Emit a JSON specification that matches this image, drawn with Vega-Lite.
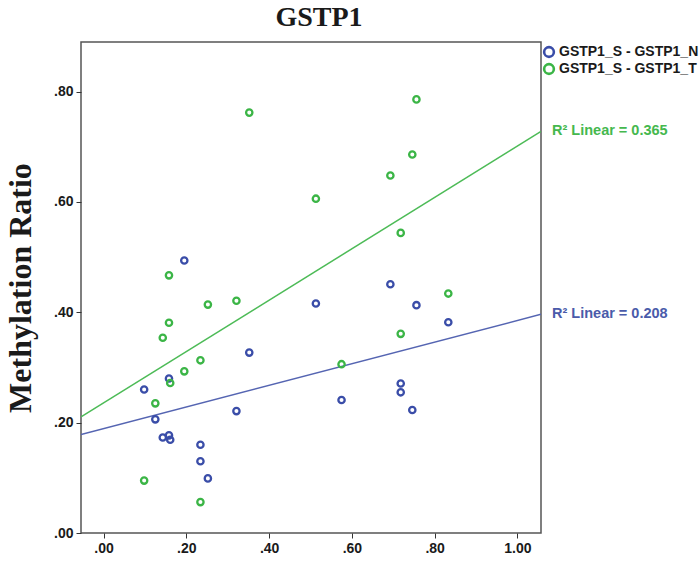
{
  "$schema": "https://vega.github.io/schema/vega-lite/v6.json",
  "width": 460,
  "height": 491,
  "autosize": "none",
  "padding": {"left": 81, "top": 42, "right": 158, "bottom": 30},
  "background": "white",
  "title": {
    "text": "GSTP1",
    "font": "Liberation Serif",
    "fontSize": 28,
    "fontWeight": "bold",
    "color": "#1a1a1a",
    "anchor": "middle",
    "dx": 8,
    "offset": 10
  },
  "config": {
    "view": {"stroke": "#555555", "strokeWidth": 1.5},
    "axis": {
      "grid": false,
      "labelFont": "Liberation Sans",
      "labelFontWeight": "bold",
      "labelFontSize": 14,
      "labelColor": "#1a1a1a",
      "tickColor": "#333333",
      "tickSize": 5,
      "domainColor": "#333333",
      "domainWidth": 1.5
    }
  },
  "data": {
    "values": [
      {"series": "GSTP1_S - GSTP1_N", "r2": "R² Linear = 0.208", "x": 0.195, "y": 0.494},
      {"series": "GSTP1_S - GSTP1_N", "r2": "R² Linear = 0.208", "x": 0.352, "y": 0.327},
      {"series": "GSTP1_S - GSTP1_N", "r2": "R² Linear = 0.208", "x": 0.158, "y": 0.280},
      {"series": "GSTP1_S - GSTP1_N", "r2": "R² Linear = 0.208", "x": 0.098, "y": 0.260},
      {"series": "GSTP1_S - GSTP1_N", "r2": "R² Linear = 0.208", "x": 0.321, "y": 0.221},
      {"series": "GSTP1_S - GSTP1_N", "r2": "R² Linear = 0.208", "x": 0.125, "y": 0.206},
      {"series": "GSTP1_S - GSTP1_N", "r2": "R² Linear = 0.208", "x": 0.143, "y": 0.173},
      {"series": "GSTP1_S - GSTP1_N", "r2": "R² Linear = 0.208", "x": 0.158, "y": 0.177},
      {"series": "GSTP1_S - GSTP1_N", "r2": "R² Linear = 0.208", "x": 0.161, "y": 0.169},
      {"series": "GSTP1_S - GSTP1_N", "r2": "R² Linear = 0.208", "x": 0.234, "y": 0.160},
      {"series": "GSTP1_S - GSTP1_N", "r2": "R² Linear = 0.208", "x": 0.234, "y": 0.130},
      {"series": "GSTP1_S - GSTP1_N", "r2": "R² Linear = 0.208", "x": 0.252, "y": 0.099},
      {"series": "GSTP1_S - GSTP1_N", "r2": "R² Linear = 0.208", "x": 0.513, "y": 0.416},
      {"series": "GSTP1_S - GSTP1_N", "r2": "R² Linear = 0.208", "x": 0.575, "y": 0.241},
      {"series": "GSTP1_S - GSTP1_N", "r2": "R² Linear = 0.208", "x": 0.693, "y": 0.451},
      {"series": "GSTP1_S - GSTP1_N", "r2": "R² Linear = 0.208", "x": 0.718, "y": 0.271},
      {"series": "GSTP1_S - GSTP1_N", "r2": "R² Linear = 0.208", "x": 0.718, "y": 0.255},
      {"series": "GSTP1_S - GSTP1_N", "r2": "R² Linear = 0.208", "x": 0.746, "y": 0.223},
      {"series": "GSTP1_S - GSTP1_N", "r2": "R² Linear = 0.208", "x": 0.756, "y": 0.413},
      {"series": "GSTP1_S - GSTP1_N", "r2": "R² Linear = 0.208", "x": 0.833, "y": 0.382},
      {"series": "GSTP1_S - GSTP1_T", "r2": "R² Linear = 0.365", "x": 0.352, "y": 0.762},
      {"series": "GSTP1_S - GSTP1_T", "r2": "R² Linear = 0.365", "x": 0.158, "y": 0.467},
      {"series": "GSTP1_S - GSTP1_T", "r2": "R² Linear = 0.365", "x": 0.252, "y": 0.414},
      {"series": "GSTP1_S - GSTP1_T", "r2": "R² Linear = 0.365", "x": 0.321, "y": 0.421},
      {"series": "GSTP1_S - GSTP1_T", "r2": "R² Linear = 0.365", "x": 0.513, "y": 0.606},
      {"series": "GSTP1_S - GSTP1_T", "r2": "R² Linear = 0.365", "x": 0.158, "y": 0.381},
      {"series": "GSTP1_S - GSTP1_T", "r2": "R² Linear = 0.365", "x": 0.143, "y": 0.354},
      {"series": "GSTP1_S - GSTP1_T", "r2": "R² Linear = 0.365", "x": 0.234, "y": 0.313},
      {"series": "GSTP1_S - GSTP1_T", "r2": "R² Linear = 0.365", "x": 0.195, "y": 0.293},
      {"series": "GSTP1_S - GSTP1_T", "r2": "R² Linear = 0.365", "x": 0.161, "y": 0.272},
      {"series": "GSTP1_S - GSTP1_T", "r2": "R² Linear = 0.365", "x": 0.125, "y": 0.235},
      {"series": "GSTP1_S - GSTP1_T", "r2": "R² Linear = 0.365", "x": 0.098, "y": 0.095},
      {"series": "GSTP1_S - GSTP1_T", "r2": "R² Linear = 0.365", "x": 0.234, "y": 0.056},
      {"series": "GSTP1_S - GSTP1_T", "r2": "R² Linear = 0.365", "x": 0.575, "y": 0.306},
      {"series": "GSTP1_S - GSTP1_T", "r2": "R² Linear = 0.365", "x": 0.718, "y": 0.361},
      {"series": "GSTP1_S - GSTP1_T", "r2": "R² Linear = 0.365", "x": 0.756, "y": 0.786},
      {"series": "GSTP1_S - GSTP1_T", "r2": "R² Linear = 0.365", "x": 0.746, "y": 0.686},
      {"series": "GSTP1_S - GSTP1_T", "r2": "R² Linear = 0.365", "x": 0.693, "y": 0.648},
      {"series": "GSTP1_S - GSTP1_T", "r2": "R² Linear = 0.365", "x": 0.718, "y": 0.544},
      {"series": "GSTP1_S - GSTP1_T", "r2": "R² Linear = 0.365", "x": 0.833, "y": 0.434}
    ]
  },
  "layer": [
    {
      "transform": [
        {"regression": "y", "on": "x", "groupby": ["series", "r2"], "extent": [-0.0546, 1.057]}
      ],
      "mark": {"type": "line", "strokeWidth": 1.5, "clip": true},
      "encoding": {
        "x": {"field": "x", "type": "quantitative"},
        "y": {"field": "y", "type": "quantitative"},
        "stroke": {
          "field": "series",
          "type": "nominal",
          "scale": {"range": ["#5565B2", "#4DBB57"]},
          "legend": null
        }
      }
    },
    {
      "transform": [
        {"regression": "y", "on": "x", "groupby": ["series", "r2"], "extent": [-0.0546, 1.057]},
        {"filter": "datum.x > 1"}
      ],
      "mark": {
        "type": "text",
        "align": "left",
        "baseline": "middle",
        "dx": 11,
        "font": "Liberation Sans",
        "fontWeight": "bold",
        "fontSize": 14.5,
        "clip": false
      },
      "encoding": {
        "x": {"field": "x", "type": "quantitative"},
        "y": {"field": "y", "type": "quantitative"},
        "text": {"field": "r2"},
        "fill": {
          "field": "series",
          "type": "nominal",
          "scale": {"range": ["#4A5BAA", "#45B84E"]},
          "legend": null
        }
      }
    },
    {
      "mark": {"type": "point", "shape": "circle", "filled": false, "size": 40, "strokeWidth": 2.3, "opacity": 1},
      "encoding": {
        "x": {
          "field": "x",
          "type": "quantitative",
          "scale": {"domain": [-0.0546, 1.057], "nice": false, "zero": false},
          "axis": {
            "title": null,
            "values": [0, 0.2, 0.4, 0.6, 0.8, 1.0],
            "labelExpr": "replace(format(datum.value, '.2f'), '0.', '.')",
            "labelPadding": 3,
            "domain": false
          }
        },
        "y": {
          "field": "y",
          "type": "quantitative",
          "scale": {"domain": [0, 0.89], "nice": false, "zero": false},
          "axis": {
            "title": "Methylation Ratio",
            "titleFont": "Liberation Serif",
            "titleFontSize": 32,
            "titleFontWeight": "bold",
            "titleColor": "#1a1a1a",
            "titlePadding": 16,
            "values": [0, 0.2, 0.4, 0.6, 0.8],
            "labelExpr": "replace(format(datum.value, '.2f'), '0.', '.')",
            "labelPadding": 3,
            "domain": false
          }
        },
        "color": {
          "field": "series",
          "type": "nominal",
          "scale": {"range": ["#3A4DA8", "#3BB546"]},
          "legend": {
            "title": null,
            "orient": "none",
            "legendX": 461,
            "legendY": 2,
            "symbolType": "circle",
            "symbolSize": 95,
            "symbolStrokeWidth": 2.6,
            "symbolFillColor": "white",
            "labelFont": "Liberation Sans",
            "labelFontWeight": "bold",
            "labelFontSize": 14,
            "labelColor": "#1a1a1a",
            "rowPadding": 1,
            "clipHeight": 16,
            "padding": 0,
            "symbolOffset": 0,
            "labelOffset": 3
          }
        }
      }
    }
  ]
}
